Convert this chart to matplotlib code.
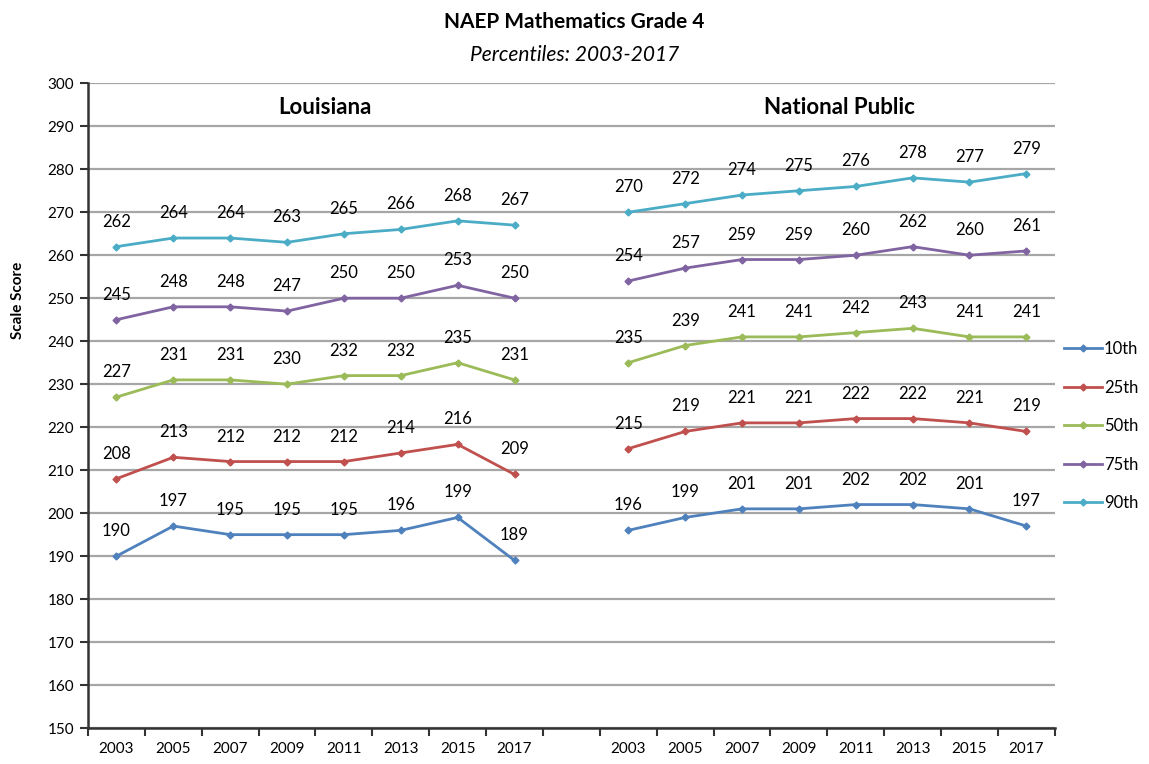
import matplotlib
import matplotlib.pyplot as plt
import numpy as np

matplotlib.use("Agg")

plt.rcParams["font.family"] = ["Lato", "DejaVu Sans"]

years = ["2003", "2005", "2007", "2009", "2011", "2013", "2015", "2017"]
percentiles = ["10th", "25th", "50th", "75th", "90th"]
colors = ["#4F81BD", "#C0504D", "#9BBB59", "#8064A2", "#4BACC6"]

louisiana = {
    "10th": [190, 197, 195, 195, 195, 196, 199, 189],
    "25th": [208, 213, 212, 212, 212, 214, 216, 209],
    "50th": [227, 231, 231, 230, 232, 232, 235, 231],
    "75th": [245, 248, 248, 247, 250, 250, 253, 250],
    "90th": [262, 264, 264, 263, 265, 266, 268, 267],
}
national = {
    "10th": [196, 199, 201, 201, 202, 202, 201, 197],
    "25th": [215, 219, 221, 221, 222, 222, 221, 219],
    "50th": [235, 239, 241, 241, 242, 243, 241, 241],
    "75th": [254, 257, 259, 259, 260, 262, 260, 261],
    "90th": [270, 272, 274, 275, 276, 278, 277, 279],
}

fig = plt.figure(figsize=(11.49, 7.64), dpi=100)
ax = fig.add_axes([0.0766, 0.047, 0.8414, 0.844])

x_la = np.arange(len(years))
x_np = x_la + len(years) + 1

for p, c in zip(percentiles, colors):
    for xs, vals, lab in [(x_la, louisiana[p], p), (x_np, national[p], None)]:
        ax.plot(xs, vals, color=c, linewidth=2, marker="D", markersize=3.5, label=lab)
        for x, v in zip(xs, vals):
            ax.annotate(str(v), (x, v), xytext=(0, 18), textcoords="offset points",
                        ha="center", va="center", fontsize=12, color="#000000")

ax.set_xlim(-0.5, 16.5)
ax.set_ylim(150, 300)
ax.set_yticks(np.arange(150, 301, 10))
ax.yaxis.grid(True, color="#a6a6a6", linewidth=1.6)
ax.set_axisbelow(True)

ax.set_xticks(list(x_la) + list(x_np))
ax.set_xticklabels(years + years)
ax.set_xticks(np.arange(-0.5, 17, 1), minor=True)
ax.tick_params(axis="x", which="major", length=0, pad=10, labelsize=11)
ax.tick_params(axis="x", which="minor", length=6, width=1.5, direction="out", color="#333333")
ax.tick_params(axis="y", length=6, width=1.5, direction="out", color="#333333", labelsize=11, pad=4)

for side in ["top", "right"]:
    ax.spines[side].set_visible(False)
for side in ["left", "bottom"]:
    ax.spines[side].set_linewidth(1.8)
    ax.spines[side].set_color("#333333")

fig.text(0.5, 0.971, "NAEP Mathematics Grade 4", ha="center", va="center",
         fontsize=15, fontweight="bold")
fig.text(0.5, 0.928, "Percentiles: 2003-2017", ha="center", va="center",
         fontsize=15, style="italic")
fig.text(0.283, 0.859, "Louisiana", ha="center", va="center", fontsize=16, fontweight="bold")
fig.text(0.731, 0.859, "National Public", ha="center", va="center", fontsize=16, fontweight="bold")
fig.text(0.016, 0.607, "Scale Score", ha="center", va="center", rotation=90,
         fontsize=11, fontweight="bold")

fig.legend(loc="center left", bbox_to_anchor=(0.926, 0.442), frameon=False,
           fontsize=12, handlelength=2.3, handletextpad=0.1, labelspacing=1.35,
           borderpad=0, borderaxespad=0)

fig.savefig("out.png", dpi=100, facecolor="white")
